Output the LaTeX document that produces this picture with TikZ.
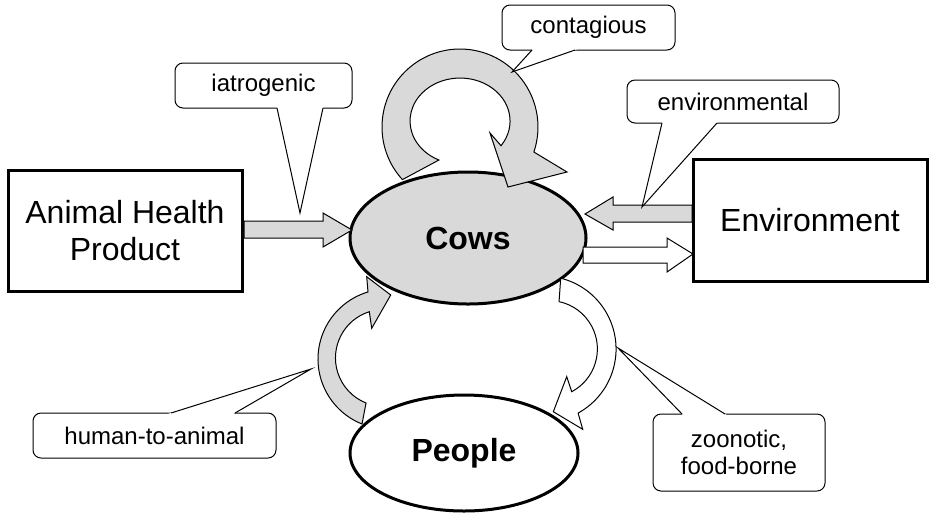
\documentclass[tikz,border=0pt]{standalone}
\usepackage{fontspec}
\setmainfont{Liberation Sans}
\usetikzlibrary{shapes.geometric,calc}
\definecolor{fillgray}{RGB}{217,217,217}
\newcommand{\calloutptr}[3]{%
  \fill[white] ($(#2)!-2pt!(#1)$) -- (#1) -- ($(#3)!-2pt!(#1)$) -- cycle;
  \draw[line width=0.75pt, line join=miter] (#2) -- (#1) -- (#3);}
\begin{document}
\begin{tikzpicture}[x=0.75pt,y=-0.75pt,
  bigbox/.style={draw, line width=2.25pt, fill=white, inner sep=0pt, align=center, font=\fontsize{24}{28}\selectfont},
  bigell/.style={ellipse, draw, line width=2.25pt, inner sep=0pt, font=\fontsize{24}{28}\selectfont\bfseries},
  blockarrow/.style={draw, line width=0.75pt, line join=miter},
  callout/.style={draw, fill=white, line width=0.75pt, rounded corners=6pt, inner sep=0pt, align=center, font=\fontsize{18}{20.25}\selectfont},
  ]
\useasboundingbox (0,0) rectangle (930,515);

% ellipses
\node[bigell, fill=fillgray, minimum width=177pt, minimum height=99pt] (cows) at (468,238) {Cows};
\node[bigell, fill=white, minimum width=171pt, minimum height=87pt] (people) at (464,453) {People};

% straight block arrows
\draw[blockarrow, fill=fillgray] (244,221) -- (323,221) -- (323,213) -- (352,230) -- (323,247) -- (323,238) -- (244,238) -- cycle;
\draw[blockarrow, fill=fillgray] (692,205) -- (613,205) -- (613,197) -- (585,214) -- (613,230) -- (613,222) -- (692,222) -- cycle;
\draw[blockarrow, fill=white] (583,247) -- (667,247) -- (667,238) -- (693,254) -- (667,272) -- (667,263) -- (583,263) -- cycle;

% contagious loop
\draw[blockarrow, fill=fillgray] (402.4,179.6) arc[start angle=137.6, end angle=378.7, radius=78]
  -- (567,172) -- (508,187) -- (490,133) -- (501,145.7)
  arc[start angle=35, end angle=-245, x radius=50, y radius=43] -- cycle;

% human-to-animal
\draw[blockarrow, fill=fillgray] (362,424) arc[start angle=111.8, end angle=253.4, radius=70]
  -- (366.7,276.7) -- (390.7,295) -- (371.7,328.3) -- (369.3,311.7)
  arc[start angle=252.4, end angle=111.7, radius=48.5] -- cycle;

% zoonotic
\draw[blockarrow, fill=white] (560.7,278.2) arc[start angle=-76, end angle=61.3, radius=73]
  -- (582.7,429.3) -- (553.3,411.7) -- (566.7,376.7) -- (571.7,391.7)
  arc[start angle=62, end angle=-78, radius=48.4] -- cycle;

% boxes
\node[bigbox, minimum width=175.5pt, minimum height=90.75pt] (ahp) at (125,230.5) {Animal Health\\Product};
\node[bigbox, minimum width=175.5pt, minimum height=91.5pt] (env) at (810,220) {Environment};

% callouts
\node[callout, minimum width=129.75pt, minimum height=33.75pt] (contag) at (588.5,27.5) {contagious};
\coordinate (ct) at (512,72); \coordinate (ca) at (532,50); \coordinate (cb) at (575,50);
\calloutptr{ct}{ca}{cb}

\node[callout, minimum width=132.75pt, minimum height=33.75pt] (iatro) at (263.5,85.5) {iatrogenic};
\coordinate (it) at (300,213); \coordinate (ia) at (277,108); \coordinate (ib) at (323,108);
\calloutptr{it}{ia}{ib}

\node[callout, minimum width=159pt, minimum height=32.25pt] (envl) at (733,101.5) {environmental};
\coordinate (et) at (642,207); \coordinate (ea) at (662,123); \coordinate (eb) at (717,123);
\calloutptr{et}{ea}{eb}

\node[callout, minimum width=182.25pt, minimum height=33.75pt] (hta) at (154.5,435.5) {human-to-animal};
\coordinate (ht) at (311,369); \coordinate (ha) at (171,413); \coordinate (hb) at (235,413);
\calloutptr{ht}{ha}{hb}

\node[callout, minimum width=129pt, minimum height=57.75pt] (zoo) at (739,452.5) {zoonotic,\\food-borne};
\coordinate (zt) at (618,348); \coordinate (za) at (682,414); \coordinate (zb) at (725,414);
\calloutptr{zt}{za}{zb}
\end{tikzpicture}
\end{document}
